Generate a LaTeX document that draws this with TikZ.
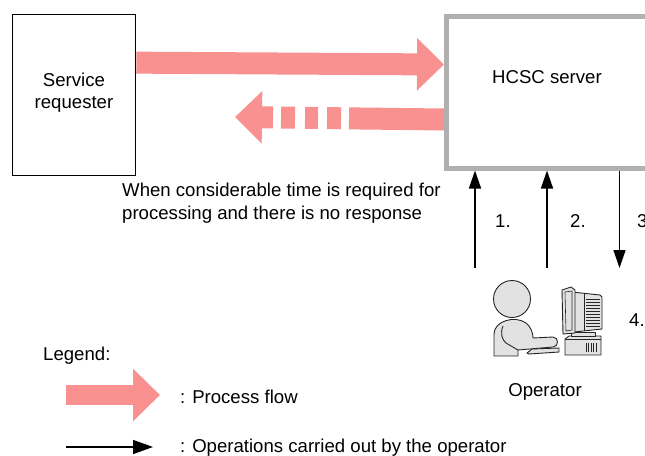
\documentclass[tikz,border=0pt]{standalone}
\usepackage{fontspec}
\setmainfont{Liberation Sans}
\usetikzlibrary{arrows.meta}
\definecolor{flowpink}{RGB}{249,145,145}
\definecolor{servergray}{RGB}{176,176,176}
\definecolor{figfill}{RGB}{226,226,226}

\begin{document}
\begin{tikzpicture}[x=1pt,y=-1pt,
  lbl/.style={font=\fontsize{18.6}{21.5}\selectfont, inner sep=0pt},
  flow/.style={draw=flowpink, line width=22pt, line cap=butt,
               -{Triangle[length=27pt,width=51pt]}},
  opstep/.style={draw=black, line width=1.5pt,
                 -{Triangle[length=18pt,width=12pt]}},
  figline/.style={draw=black!85, line width=0.9pt, fill=figfill, line join=round},
  thin/.style={draw=black!85, line width=0.6pt},
]
\useasboundingbox (0,0) rectangle (645,455);
\clip (0,0) rectangle (645,455);

% --- the two parties ---
\node[draw, line width=1.3pt, minimum width=123pt, minimum height=161pt,
      inner sep=0pt, anchor=north west] (req) at (12,13.5) {};
% a multi-line node sits on the baseline of its last line
\node[lbl, align=center, anchor=base] (reqtxt) at (74,108) {Service\\requester};

% process flow arrows (drawn before the server frame)
\coordinate (retTip) at (235,117);
\node[draw=servergray, line width=5pt, minimum width=230pt, minimum height=151.5pt,
      inner sep=0pt, anchor=north west] (server) at (444,14) {};
\draw[flow] ([yshift=32pt]req.east) -- ([yshift=27.75pt]server.west);
\draw[flow, dash pattern=on 95pt off 8pt on 14pt off 9pt on 13pt off 10pt on 14pt off 8pt on 80pt]
  ([yshift=-27.25pt]server.west) -- (retTip);
% frame on top of the arrow ends
\node[draw=servergray, line width=5pt, minimum width=230pt, minimum height=151.5pt,
      inner sep=0pt, anchor=north west] (serverframe) at (444,14) {};
\node[lbl, anchor=base] (srvtxt) at (547,83.3) {HCSC server};

\node[lbl, font=\fontsize{18.6}{22.3}\selectfont, align=left, anchor=base west] (note) at (122,219)
  {When considerable time is required for\\processing and there is no response};

% --- operator's steps ---
\coordinate (op1) at (475,268);
\coordinate (op2) at (547,268);
\coordinate (op3) at (619.5,268);
\draw[opstep] (op1) -- (op1 |- server.south);
\draw[opstep] (op2) -- (op2 |- server.south);
\draw[opstep] (op3 |- server.south) -- (op3);
\node[lbl, anchor=base west] (n1) at (495,227) {1.};
\node[lbl, anchor=base west] (n2) at (570,227) {2.};
\node[lbl, anchor=base west] (n3) at (637,227) {3.};
\node[lbl, anchor=base west] (n4) at (629,326) {4.};

% --- operator at the computer ---
% computer case
\path[figline] (565,339) -- (569,336) -- (601,336) -- (601,355) -- (565,355) -- cycle;
\draw[thin] (565,339) -- (601,339);
\foreach \vx in {586,588.5,591,593.5,596}
  \draw[thin] (\vx,343) -- (\vx,352);
% monitor stand
\path[figline] (571,332) rectangle (595,336);
% monitor body
\path[figline] (572,292) -- (600,295) -- (602,297) -- (602,329) -- (574,332) -- cycle;
\foreach \vy in {299,302,305,308,311,314,317,320,323,326}
  \draw[thin] (586,\vy) -- (600,\vy);
\draw[thin] (584,294) -- (584,331);
% monitor front bezel
\path[figline] (562,290) -- (571,287) -- (575,290) -- (575,333) -- (563,334) -- cycle;
\draw[thin] (565,292) -- (572,291) -- (572,330) -- (566,331) -- cycle;
% keyboard
\path[figline] (527,353) -- (532,349) -- (559,348) -- (559,352) -- (529,354) -- cycle;
% person: torso with arm
\path[figline] (494,356) -- (494,334)
  .. controls (494,321) and (515,315) .. (526,323)
  .. controls (531,327) and (533,333) .. (533,338)
  -- (553,337) .. controls (559,337) and (559,347) .. (553,347)
  -- (518,350) -- (518,356) -- cycle;
\draw[thin, line width=0.9pt] (503,326) .. controls (500,333) and (502,340) .. (506,343)
  -- (518,350);
% head
\path[figline] (512,299) circle[radius=18.5pt];

\node[lbl, anchor=base] (optxt) at (545,396) {Operator};

% --- legend ---
\node[lbl, anchor=base west] (lghead) at (43,360) {Legend:};
\coordinate (lgA) at (66,395);
\coordinate (lgB) at (160,395);
\draw[flow, line width=20pt] (lgA) -- (lgB);
\node[lbl, anchor=base west] (lgflow) at (180,403) {: Process flow};
\coordinate (lgC) at (66,447);
\coordinate (lgD) at (153,447);
\draw[opstep, -{Triangle[length=20pt,width=14pt]}] (lgC) -- (lgD);
\node[lbl, anchor=base west] (lgop) at (180,452.5) {: Operations carried out by the operator};
\end{tikzpicture}
\end{document}
